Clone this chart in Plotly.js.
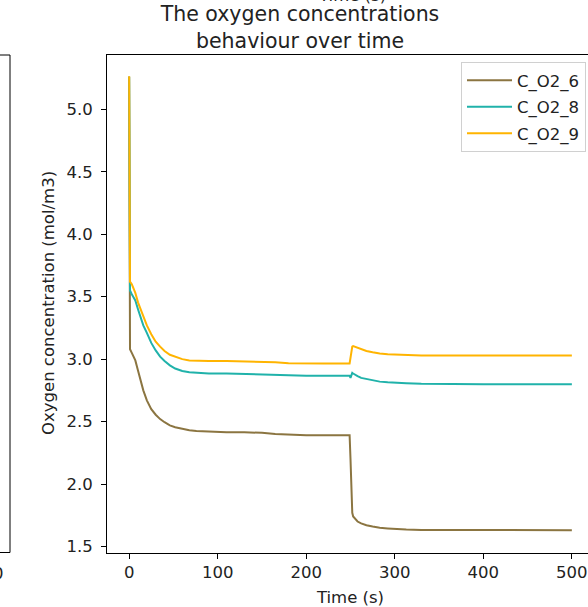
<!DOCTYPE html>
<html>
<head>
<meta charset="utf-8">
<script src="https://cdn.plot.ly/plotly-3.0.1.min.js"></script>
<style>
html,body{margin:0;padding:0;overflow:hidden;background:#fff;}
#chart{width:600px;height:607px;}
</style>
</head>
<body>
<div id="chart"></div>
<script>
// Time (s)
const time = [0, 0.5, 1, 3, 5, 7, 10, 13, 16, 20, 25, 30, 35, 40, 46, 52, 60, 68, 76, 90, 110, 130, 150, 165, 180, 200, 220, 249, 250, 251, 252, 253, 255, 258, 262, 268, 275, 283, 292, 300, 313, 330, 360, 400, 450, 500];

const c_O2_6 = [5.26, 3.2, 3.08, 3.05, 3.02, 2.99, 2.91, 2.82, 2.75, 2.67, 2.60, 2.555, 2.52, 2.495, 2.47, 2.455, 2.44, 2.43, 2.425, 2.42, 2.415, 2.415, 2.41, 2.40, 2.395, 2.39, 2.39, 2.39, 2.2, 1.85, 1.77, 1.74, 1.72, 1.70, 1.685, 1.67, 1.66, 1.65, 1.645, 1.64, 1.636, 1.633, 1.632, 1.63, 1.63, 1.63];

const c_O2_8 = [5.26, 3.6, 3.55, 3.52, 3.50, 3.47, 3.40, 3.33, 3.27, 3.21, 3.13, 3.07, 3.02, 2.985, 2.95, 2.925, 2.905, 2.895, 2.89, 2.885, 2.885, 2.88, 2.88, 2.875, 2.87, 2.868, 2.868, 2.868, 2.85, 2.87, 2.89, 2.885, 2.875, 2.865, 2.85, 2.84, 2.83, 2.82, 2.815, 2.81, 2.807, 2.803, 2.80, 2.80, 2.80, 2.80];

const c_O2_9 = [5.265, 3.65, 3.62, 3.60, 3.57, 3.53, 3.455, 3.40, 3.34, 3.27, 3.20, 3.14, 3.10, 3.065, 3.035, 3.02, 3.0, 2.99, 2.987, 2.985, 2.985, 2.983, 2.98, 2.975, 2.968, 2.965, 2.965, 2.965, 3.02, 3.08, 3.10, 3.105, 3.10, 3.09, 3.08, 3.065, 3.055, 3.045, 3.04, 3.037, 3.033, 3.03, 3.03, 3.03, 3.03, 3.03];

const seriesNames = ["C_O2_6", "C_O2_8", "C_O2_9"];
const seriesColors = ["#8b7541", "#20b2aa", "#ffb400"];
const seriesValues = [c_O2_6, c_O2_8, c_O2_9];

const xTicks = [0, 100, 200, 300, 400, 500];
const yTicks = [1.5, 2.0, 2.5, 3.0, 3.5, 4.0, 4.5, 5.0];

const W = 600, H = 607;
const FONT = "DejaVu Sans";
const TXT = "#222";
const FS = 16.5;

const traces = seriesNames.map((n, i) => ({
  x: time, y: seriesValues[i], name: n, type: "scatter", mode: "lines",
  legendgroup: "g" + i,
  line: {color: seriesColors[i], width: 2}
}));

const axL = 107, axR = 594, axT = 55, axB = 552.5;

const layout = {
  width: W, height: H,
  margin: {l: 0, r: 0, t: 0, b: 0, autoexpand: false},
  paper_bgcolor: "#fff", plot_bgcolor: "#fff",
  font: {family: FONT, size: FS, color: TXT},
  showlegend: true,
  title: {
    text: "The oxygen concentrations<br>behaviour over time",
    font: {family: FONT, size: 20.5, color: TXT},
    xref: "paper", x: 0.5, xanchor: "center",
    yref: "container", y: 1 - 21/H, yanchor: "top",
    automargin: false
  },
  xaxis: {
    domain: [axL/W, axR/W],
    range: [-25, 525],
    automargin: false,
    tickvals: xTicks, ticktext: xTicks.map(String),
    ticks: "outside", ticklen: 5, tickwidth: 1, tickcolor: "#000",
    showline: true, mirror: true, linecolor: "#000", linewidth: 1,
    showgrid: false, zeroline: false,
    tickfont: {family: FONT, size: FS, color: TXT},
    title: {text: "Time (s)", font: {family: FONT, size: FS, color: TXT}}
  },
  yaxis: {
    domain: [1 - axB/H, 1 - axT/H],
    range: [1.452, 5.435],
    automargin: false,
    tickvals: yTicks, ticktext: yTicks.map(v => v.toFixed(1)),
    ticks: "outside", ticklen: 5, tickwidth: 1, tickcolor: "#000",
    ticklabelstandoff: 5,
    showline: true, mirror: true, linecolor: "#000", linewidth: 1,
    showgrid: false, zeroline: false,
    tickfont: {family: FONT, size: FS, color: TXT}
  },
  legend: {
    x: 586/W, xanchor: "right", xref: "paper",
    y: 1 - 62/H, yanchor: "top", yref: "paper",
    bgcolor: "rgba(255,255,255,0.8)", bordercolor: "#d0d0d0", borderwidth: 1,
    font: {family: FONT, size: FS, color: TXT},
    itemwidth: 45,
    tracegroupgap: 2
  },
  shapes: [
    {type: "rect", xref: "paper", yref: "paper",
     x0: -20/W, x1: 10/W, y0: 1 - axB/H, y1: 1 - axT/H,
     line: {color: "#000", width: 1}, fillcolor: "rgba(0,0,0,0)"}
  ],
  annotations: [
    {text: "Oxygen concentration (mol/m3)", xref: "paper", yref: "paper",
     x: 48/W, y: 1 - 303/H, xanchor: "center", yanchor: "middle",
     textangle: -90, showarrow: false,
     font: {family: FONT, size: FS, color: TXT}},
    {text: "Time (s)", xref: "paper", yref: "paper", x: 352/W, y: 1 - 7/H,
     xanchor: "center", yanchor: "bottom", showarrow: false,
     font: {family: FONT, size: FS, color: TXT}},
    {text: "500", xref: "paper", yref: "paper", x: -12/W, y: 1 - 562/H,
     xanchor: "center", yanchor: "top", showarrow: false,
     font: {family: FONT, size: FS, color: TXT}}
  ]
};

Plotly.newPlot("chart", traces, layout, {displayModeBar: false, staticPlot: true});
</script>
</body>
</html>
